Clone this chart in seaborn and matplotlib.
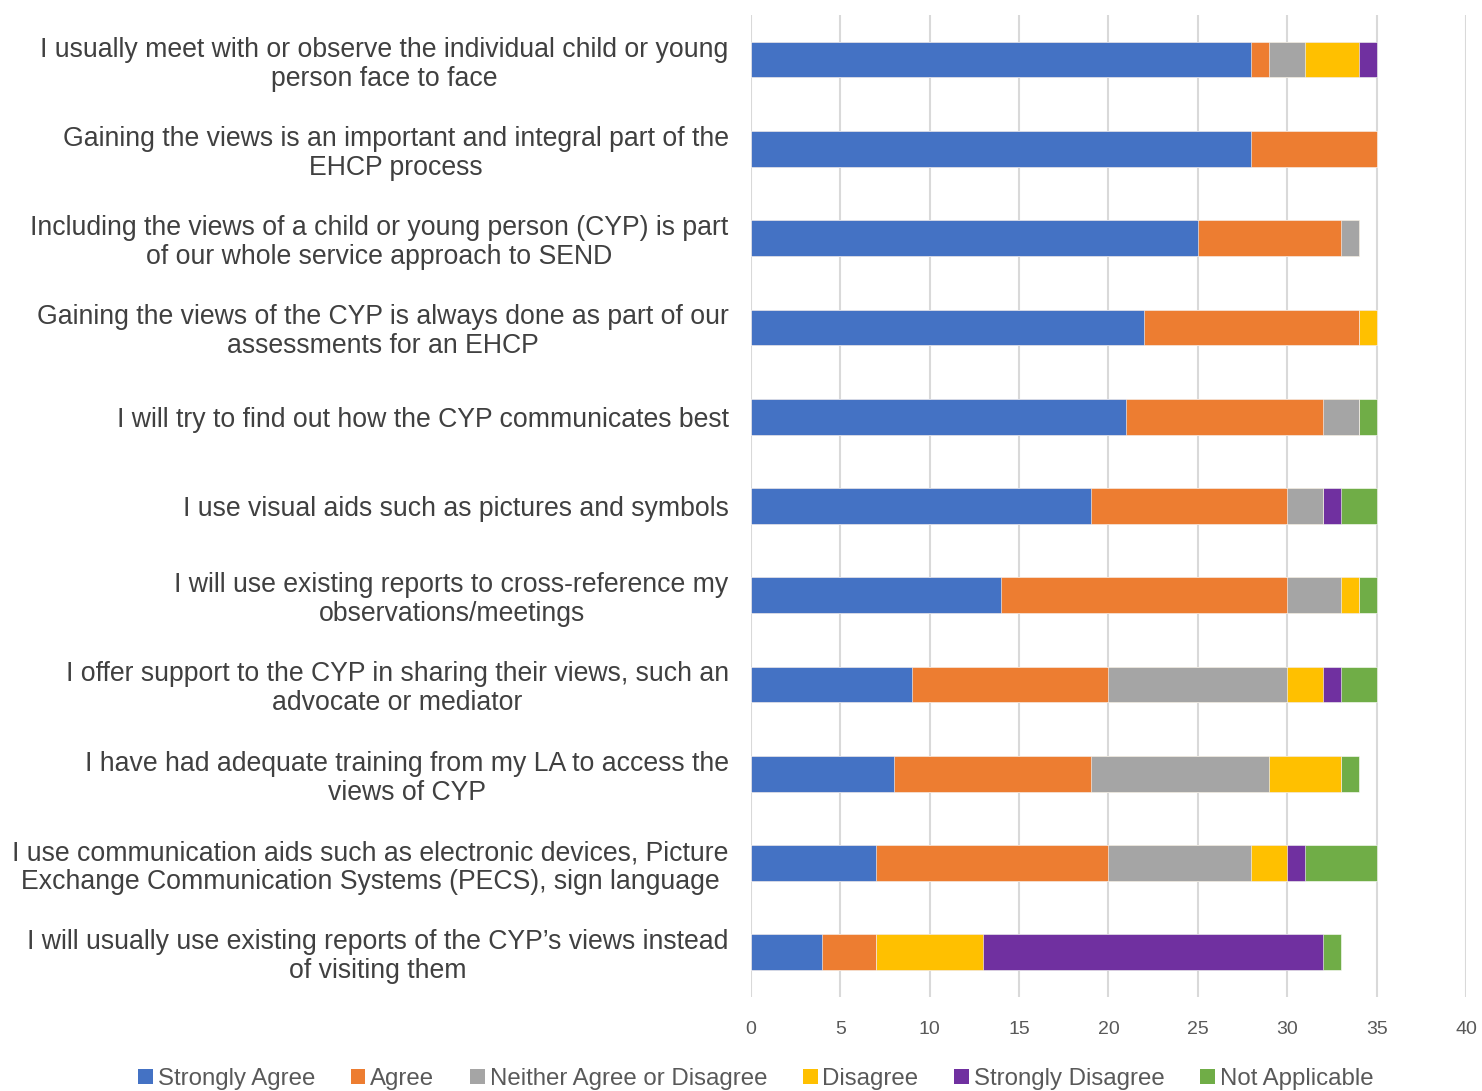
import numpy as np
import pandas as pd
import matplotlib
matplotlib.use("Agg")
import matplotlib.pyplot as plt
from matplotlib.patches import Patch
import seaborn as sns

#%%
#  Data

statements = [
    "I usually meet with or observe the individual child or young\nperson face to face",
    "Gaining the views is an important and integral part of the\nEHCP process",
    "Including the views of a child or young person (CYP) is part\nof our whole service approach to SEND",
    "Gaining the views of the CYP is always done as part of our\nassessments for an EHCP",
    "I will try to find out how the CYP communicates best",
    "I use visual aids such as pictures and symbols",
    "I will use existing reports to cross-reference my\nobservations/meetings",
    "I offer support to the CYP in sharing their views, such an\nadvocate or mediator",
    "I have had adequate training from my LA to access the\nviews of CYP",
    "I use communication aids such as electronic devices, Picture\nExchange Communication Systems (PECS), sign language",
    "I will usually use existing reports of the CYP\u2019s views instead\nof visiting them",
]
responses = ["Strongly Agree", "Agree", "Neither Agree or Disagree",
             "Disagree", "Strongly Disagree", "Not Applicable"]
strongly_agree = [28, 28, 25, 22, 21, 19, 14, 9, 8, 7, 4]
agree          = [1, 7, 8, 12, 11, 11, 16, 11, 11, 13, 3]
neither        = [2, 0, 1, 0, 2, 2, 3, 10, 10, 8, 0]
disagree       = [3, 0, 0, 1, 0, 0, 1, 2, 4, 2, 6]
strongly_dis   = [1, 0, 0, 0, 0, 1, 0, 1, 0, 1, 19]
not_applicable = [0, 0, 0, 0, 1, 2, 1, 2, 1, 4, 1]
colors = ["#4472C4", "#ED7D31", "#A5A5A5", "#FFC000", "#7030A0", "#70AD47"]

df = pd.DataFrame({"statement": statements,
                   "Strongly Agree": strongly_agree,
                   "Agree": agree,
                   "Neither Agree or Disagree": neither,
                   "Disagree": disagree,
                   "Strongly Disagree": strongly_dis,
                   "Not Applicable": not_applicable})
cum = df[responses].cumsum(axis=1)

#%%
#  Plot

sns.set_style("white")
plt.rcParams["font.family"] = ["Liberation Sans", "DejaVu Sans"]

fig = plt.figure(figsize=(14.82, 10.91), dpi=100)
ax = fig.add_axes([0.5067, 0.0862, 0.4825, 0.9001])

# stacked bars: draw the running totals from the longest to the shortest
for resp, col in reversed(list(zip(responses, colors))):
    sns.barplot(x=cum[resp], y=df["statement"], orient="h", color=col,
                width=0.4, saturation=1, edgecolor="white", linewidth=0.4,
                ax=ax)

ax.set_xlim(0, 40)
ax.set_xticks(range(0, 41, 5))
ax.set_xlabel("")
ax.set_ylabel("")
ax.grid(axis="x", color="#d9d9d9", linewidth=1.5)
ax.set_axisbelow(True)
for s in ax.spines.values():
    s.set_visible(False)
ax.tick_params(axis="x", labelsize=14, colors="#595959", length=0, pad=17)
ax.tick_params(axis="y", length=0, pad=16)
for lab in ax.get_yticklabels():
    lab.set_fontsize(19.2)
    lab.set_color("#404040")
    lab.set_multialignment("center")
    lab.set_linespacing(1.15)

handles = [Patch(facecolor=c, edgecolor="none") for c in colors]
fig.legend(handles, responses, loc="center", bbox_to_anchor=(0.51, 0.011),
           ncol=6, frameon=False, fontsize=17.3, labelcolor="#595959",
           handlelength=0.6, handleheight=0.6, handletextpad=0.2,
           columnspacing=1.5, borderpad=0)

fig.savefig("out.png", dpi=100)
